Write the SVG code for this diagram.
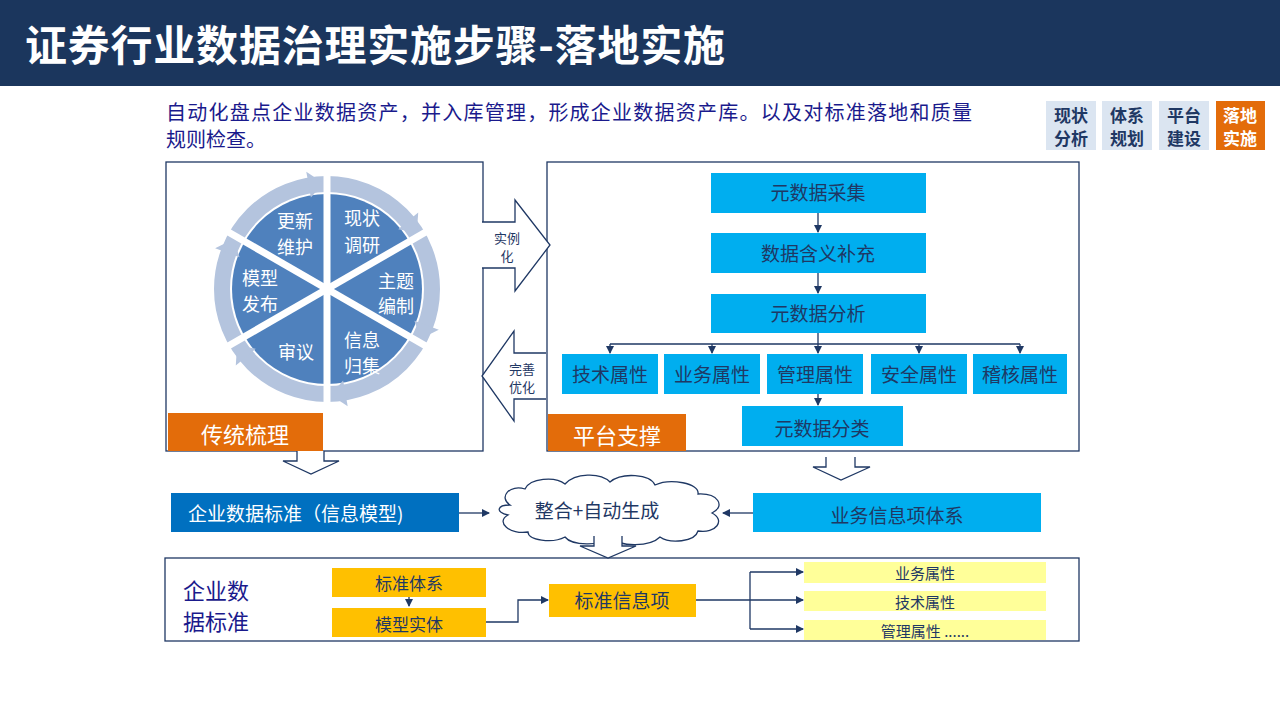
<svg xmlns="http://www.w3.org/2000/svg" width="1280" height="720" viewBox="0 0 1280 720">
<defs>
<style>
text{font-family:"Noto Sans CJK SC","Liberation Sans",sans-serif}
.box{fill:#00aeef}
.bt{fill:#1f3864;font-size:19px;text-anchor:middle}
.wt{fill:#fff;font-size:18px}
.yl{fill:#ffc000}
.ly{fill:#ffff99}
.ln{fill:none;stroke:#1f3864;stroke-width:1.3}
.hol{fill:#fff;stroke:#1f3864;stroke-width:1.3}
.tab{fill:#dbe5f1}
.tt{fill:#1f3864;font-size:17px;font-weight:bold;text-anchor:middle}
</style>
<marker id="ar" markerWidth="8" markerHeight="8" refX="7" refY="4" orient="auto" markerUnits="userSpaceOnUse"><path d="M0,0 L8,4 L0,8z" fill="#1f3864"/></marker>
</defs>
<rect x="0" y="0" width="1280" height="86" fill="#1b365d"/>
<text x="25" y="61" fill="#fff" font-size="42" font-weight="bold" textLength="700">证券行业数据治理实施步骤-落地实施</text>
<text x="166" y="120" fill="#1a1a8c" font-size="20" textLength="806">自动化盘点企业数据资产，并入库管理，形成企业数据资产库。以及对标准落地和质量</text>
<text x="166" y="147" fill="#1a1a8c" font-size="20">规则检查。</text>
<g id="tabs">
<rect class="tab" x="1046" y="101" width="50" height="49"/><text class="tt" x="1071" y="122">现状</text><text class="tt" x="1071" y="145">分析</text>
<rect class="tab" x="1102" y="101" width="50" height="49"/><text class="tt" x="1127" y="122">体系</text><text class="tt" x="1127" y="145">规划</text>
<rect class="tab" x="1159" y="101" width="50" height="49"/><text class="tt" x="1184" y="122">平台</text><text class="tt" x="1184" y="145">建设</text>
<rect x="1216" y="101" width="49" height="49" fill="#e36c0a"/><text class="tt" x="1240" y="122" style="fill:#fff">落地</text><text class="tt" x="1240" y="145" style="fill:#fff">实施</text>
</g>
<g id="left-panel">
<rect x="166" y="162" width="317" height="289" fill="#fff" stroke="#1f3864" stroke-width="1.3"/>
<circle cx="327" cy="289" r="105" fill="none" stroke="#b4c4de" stroke-width="16"/>
<circle cx="327" cy="289" r="95" fill="#4f81bd"/>
<g fill="#b4c4de">
<path d="M310.9,197.4 L306.3,171.8 L323.3,183.1z"/>
<path d="M398.2,229.2 L418.2,212.5 L416.9,232.8z"/>
<path d="M414.4,320.8 L438.8,329.7 L420.6,338.7z"/>
<path d="M343.1,380.6 L347.7,406.2 L330.7,394.9z"/>
<path d="M255.8,348.8 L235.8,365.5 L237.1,345.2z"/>
<path d="M239.6,257.2 L215.1,248.3 L233.4,239.3z"/>
</g>
<g stroke="#fff" stroke-width="7">
<line x1="327" y1="289" x2="327" y2="167"/>
<line x1="327" y1="289" x2="327" y2="411"/>
<line x1="327" y1="289" x2="432.7" y2="228"/>
<line x1="327" y1="289" x2="432.7" y2="350"/>
<line x1="327" y1="289" x2="221.3" y2="228"/>
<line x1="327" y1="289" x2="221.3" y2="350"/>
</g>
<text class="wt" x="277" y="228">更新</text><text class="wt" x="277" y="254">维护</text>
<text class="wt" x="344" y="225">现状</text><text class="wt" x="344" y="252">调研</text>
<text class="wt" x="378" y="288">主题</text><text class="wt" x="378" y="313">编制</text>
<text class="wt" x="344" y="347">信息</text><text class="wt" x="344" y="373">归集</text>
<text class="wt" x="278" y="359">审议</text>
<text class="wt" x="242" y="285">模型</text><text class="wt" x="242" y="311">发布</text>
<rect x="168" y="413" width="155" height="38" fill="#e36c0a"/>
<text x="245" y="443" fill="#fff" font-size="22" text-anchor="middle">传统梳理</text>
</g>
<g id="right-panel">
<rect x="547" y="162" width="532" height="289" fill="#fff" stroke="#1f3864" stroke-width="1.3"/>
<rect class="box" x="711" y="173" width="215" height="40"/><text class="bt" x="818" y="200">元数据采集</text>
<rect class="box" x="711" y="233" width="215" height="40"/><text class="bt" x="818" y="261">数据含义补充</text>
<rect class="box" x="711" y="294" width="215" height="39"/><text class="bt" x="818" y="321">元数据分析</text>
<rect class="box" x="562" y="354" width="96" height="40"/><text class="bt" x="610" y="382">技术属性</text>
<rect class="box" x="664" y="354" width="96" height="40"/><text class="bt" x="712" y="382">业务属性</text>
<rect class="box" x="767" y="354" width="96" height="40"/><text class="bt" x="815" y="382">管理属性</text>
<rect class="box" x="871" y="354" width="96" height="40"/><text class="bt" x="919" y="382">安全属性</text>
<rect class="box" x="973" y="354" width="94" height="40"/><text class="bt" x="1020" y="382">稽核属性</text>
<rect class="box" x="742" y="406" width="161" height="40"/><text class="bt" x="822" y="436">元数据分类</text>
<rect x="548" y="414" width="138" height="37" fill="#e36c0a"/>
<text x="617" y="444" fill="#fff" font-size="22" text-anchor="middle">平台支撑</text>
</g>
<g id="std-model">
<rect x="171" y="493" width="288" height="39" fill="#0070c0"/>
<text x="188" y="521" fill="#fff" font-size="19">企业数据标准（信息模型)</text>
</g>
<g id="cloud">
<path d="M510,505 C498,497 510,484 525,489 C530,478 555,476 565,484 C575,473 600,472 610,482 C622,472 650,474 655,485 C670,478 700,483 698,494 C718,493 726,506 712,513 C726,520 716,534 698,531 C695,542 670,544 660,537 C650,547 620,547 612,538 C600,546 572,546 565,537 C552,544 528,540 528,532 C510,535 495,522 508,515 C495,512 497,505 510,505z" fill="#fff" stroke="#1f3864" stroke-width="1.3"/>
<text x="597" y="518" fill="#1f3864" font-size="19" text-anchor="middle">整合+自动生成</text>
</g>
<g id="biz-items">
<rect class="box" x="753" y="493" width="288" height="39"/>
<text class="bt" x="897" y="523">业务信息项体系</text>
</g>
<g id="bottom">
<rect x="165" y="558" width="914" height="83" fill="#fff" stroke="#1f3864" stroke-width="1.3"/>
<text x="183" y="599" fill="#1a1a8c" font-size="22">企业数</text>
<text x="183" y="630" fill="#1a1a8c" font-size="22">据标准</text>
<rect class="yl" x="332" y="568" width="154" height="29"/><text class="bt" x="409" y="590" style="font-size:17px">标准体系</text>
<rect class="yl" x="332" y="608" width="154" height="29"/><text class="bt" x="409" y="631" style="font-size:17px">模型实体</text>
<rect class="yl" x="549" y="584" width="147" height="33"/><text class="bt" x="622" y="608">标准信息项</text>
<rect class="ly" x="804" y="562" width="242" height="21"/><text class="bt" x="925" y="579" style="font-size:15px">业务属性</text>
<rect class="ly" x="804" y="591" width="242" height="20"/><text class="bt" x="925" y="608" style="font-size:15px">技术属性</text>
<rect class="ly" x="804" y="620" width="242" height="20"/><text class="bt" x="925" y="637" style="font-size:15px">管理属性 ......</text>
</g>
<g id="connectors">
<path class="ln" d="M818,213 V232" marker-end="url(#ar)"/>
<path class="ln" d="M818,273 V293" marker-end="url(#ar)"/>
<path class="ln" d="M818,333 V344 M610,344 H1020"/>
<path class="ln" d="M610,344 V353" marker-end="url(#ar)"/>
<path class="ln" d="M712,344 V353" marker-end="url(#ar)"/>
<path class="ln" d="M818,344 V353" marker-end="url(#ar)"/>
<path class="ln" d="M919,344 V353" marker-end="url(#ar)"/>
<path class="ln" d="M1020,344 V353" marker-end="url(#ar)"/>
<path class="ln" d="M818,394 V405" marker-end="url(#ar)"/>
<path class="hol" d="M482,222 H515 V200 L550,245 L515,291 V268 H482"/>
<text x="507" y="243" fill="#1f3864" font-size="13" text-anchor="middle">实例</text>
<text x="507" y="261" fill="#1f3864" font-size="13" text-anchor="middle">化</text>
<path class="hol" d="M546,353 H514 V331 L482,376 L514,421 V399 H546"/>
<text x="522" y="374" fill="#1f3864" font-size="13" text-anchor="middle">完善</text>
<text x="522" y="392" fill="#1f3864" font-size="13" text-anchor="middle">优化</text>
<path class="hol" d="M297,451 V461 H283 L311,474 L339,461 H324 V451"/>
<path class="hol" d="M826,457 V467 H813 L841,480 L870,467 H855 V457"/>
<path class="hol" d="M594,536 V546 H580 L608,558 L636,546 H622 V536"/>
<path class="ln" d="M459,513 H489" marker-end="url(#ar)"/>
<path class="ln" d="M753,513 H723" marker-end="url(#ar)"/>
<path class="ln" d="M409,597 V606" marker-end="url(#ar)"/>
<path class="ln" d="M486,622 H518 V600 H548" marker-end="url(#ar)"/>
<path class="ln" d="M696,600 H750 M750,572 V629"/>
<path class="ln" d="M750,572 H803" marker-end="url(#ar)"/>
<path class="ln" d="M750,600 H803" marker-end="url(#ar)"/>
<path class="ln" d="M750,629 H803" marker-end="url(#ar)"/>
</g>
</svg>
